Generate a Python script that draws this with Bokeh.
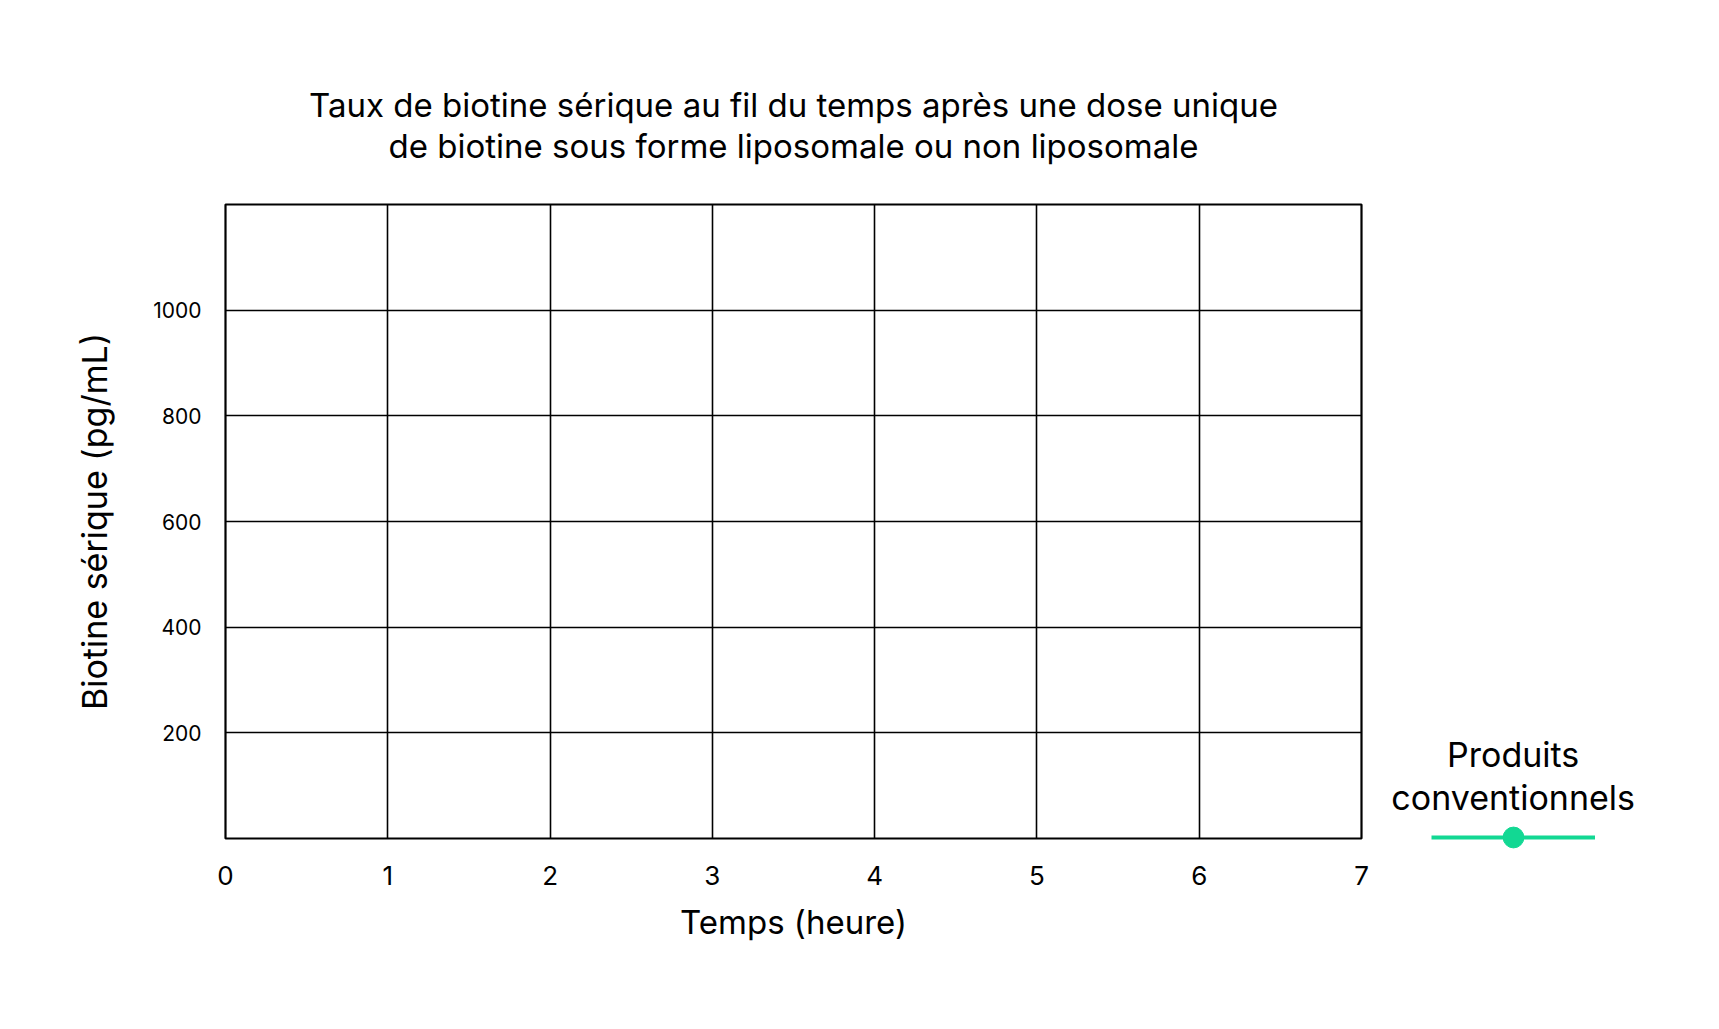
from bokeh.plotting import figure
from bokeh.layouts import row, column
from bokeh.models import (Label, Legend, LegendItem, FixedTicker, ColumnDataSource, Range1d)
from bokeh.embed import file_html
from bokeh.resources import INLINE

# ---- data ----
title_lines = ["Taux de biotine sérique au fil du temps après une dose unique",
               "de biotine sous forme liposomale ou non liposomale"]
x_label = "Temps (heure)"
y_label = "Biotine sérique (pg/mL)"
x_ticks = [0, 1, 2, 3, 4, 5, 6, 7]
y_ticks = [200, 400, 600, 800, 1000]
series_name_lines = ["Produits", "conventionnels"]
# the series shows no plotted points in the reference (values unknown -> NaN)
conv_time = [float("nan")]
conv_biotin = [float("nan")]

FONT = "Inter"
GREEN = "#12d893"

TOTAL_W, TOTAL_H = 1700, 1010
TOP_H = 180
W1 = 1380
W2 = TOTAL_W - W1
H = TOTAL_H - TOP_H


def bare(width, height, xr, yr):
    f = figure(width=width, height=height, output_backend="svg", toolbar_location=None,
               x_range=xr, y_range=yr, x_axis_type=None, y_axis_type=None,
               min_border_left=0, min_border_right=0, min_border_top=0, min_border_bottom=0)
    f.outline_line_color = None
    f.background_fill_color = "white"
    f.border_fill_color = "white"
    f.frame_align = False
    return f


# ---- title strip (page pixel coordinates) ----
t = bare(TOTAL_W, TOP_H, Range1d(0, TOTAL_W), Range1d(TOP_H, 0))
for txt, yy in zip(title_lines, [104, 145]):
    t.add_layout(Label(x=793, y=yy, text=txt, text_align="center", text_baseline="alphabetic",
                       text_font=FONT, text_font_size="33px", text_color="black"))

# ---- main chart ----
p = figure(width=W1, height=H, output_backend="svg", toolbar_location=None,
           x_range=Range1d(0, 7), y_range=Range1d(0, 1200),
           min_border_left=225, min_border_right=19,
           min_border_top=204 - TOP_H, min_border_bottom=172)
p.frame_align = False
p.background_fill_color = "white"
p.border_fill_color = "white"
p.outline_line_color = "black"
p.outline_line_width = 2.2

for ax in (p.xaxis[0], p.yaxis[0]):
    ax.axis_line_color = None
    ax.major_tick_line_color = None
    ax.minor_tick_line_color = None
    ax.major_tick_out = 0
    ax.major_tick_in = 0
    ax.minor_tick_out = 0
    ax.minor_tick_in = 0
    ax.major_label_text_font = FONT
    ax.axis_label_text_font = FONT
    ax.axis_label_text_font_style = "normal"
    ax.major_label_text_color = "black"
    ax.axis_label_text_color = "black"

p.xaxis.ticker = FixedTicker(ticks=x_ticks)
p.yaxis.ticker = FixedTicker(ticks=y_ticks)
p.xaxis.major_label_text_font_size = "26px"
p.yaxis.major_label_text_font_size = "21px"
p.xaxis.major_label_standoff = 27
p.yaxis.major_label_standoff = 24
p.xaxis.axis_label = x_label
p.yaxis.axis_label = y_label
p.xaxis.axis_label_text_font_size = "33px"
p.yaxis.axis_label_text_font_size = "34px"
p.xaxis.axis_label_standoff = 14
p.yaxis.axis_label_standoff = 35

p.xgrid.grid_line_color = "black"
p.ygrid.grid_line_color = "black"
p.xgrid.grid_line_width = 1.6
p.ygrid.grid_line_width = 1.6

# ---- legend panel (page pixel coordinates) ----
q = bare(W2, H, Range1d(W1, TOTAL_W), Range1d(TOTAL_H, TOP_H))

src = ColumnDataSource(data=dict(t=conv_time, v=conv_biotin))
r_line = q.line("t", "v", source=src, line_color=GREEN, line_width=4)
r_dot = q.scatter("t", "v", source=src, size=21, fill_color=GREEN, line_color=GREEN)

legend = Legend(items=[LegendItem(label=" ", renderers=[r_line, r_dot])],
                location=(51, 147), padding=0, margin=0, spacing=0,
                glyph_width=164, glyph_height=52, label_width=0, label_standoff=0,
                label_text_font_size="1px",
                background_fill_alpha=0, border_line_color=None)
q.add_layout(legend, "center")

for txt, yy in zip(series_name_lines, [754, 797]):
    q.add_layout(Label(x=1512.7, y=yy, text=txt, text_align="center", text_baseline="alphabetic",
                       text_font=FONT, text_font_size="34px", text_color="black"))

layout = column(t, row(p, q))
open("out.html", "w").write(file_html(layout, INLINE))
